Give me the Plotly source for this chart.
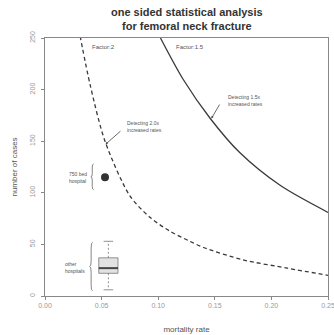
import plotly.graph_objects as go

# ---- data ----
rate_f2 = [0.031, 0.040, 0.053, 0.075, 0.093, 0.110, 0.128, 0.140, 0.175, 0.214, 0.250]
cases_f2 = [252, 204, 150, 97, 76, 63, 53, 47, 35, 27, 20]
rate_f15 = [0.102, 0.122, 0.146, 0.172, 0.208, 0.250]
cases_f15 = [250, 210, 172, 139, 107, 81]

hosp750_rate = [0.053]
hosp750_cases = [115]

other_rate = 0.056
other_stats = dict(low=6, q1=22, med=27, q3=37, high=53)
box_half = 0.0085

x_ticks = [0.00, 0.05, 0.10, 0.15, 0.20, 0.25]
x_ticklabels = ["0.00", "0.05", "0.10", "0.15", "0.20", "0.25"]
y_ticks = [0, 50, 100, 150, 200, 250]
y_ticklabels = ["0", "50", "100", "150", "200", "250"]

curve_col = "#3a3a3a"
txt_col = "#555555"
FONT = "Liberation Sans, Arial"
ann_font = dict(family=FONT, size=6, color="#555555")
small_font = dict(family=FONT, size=5, color="#555555")

fig = go.Figure()

fig.add_trace(go.Scatter(x=rate_f2, y=cases_f2, mode="lines", line_shape="spline",
                         line=dict(color=curve_col, width=1.3, dash="4px,3px", smoothing=0.8),
                         hoverinfo="skip"))
fig.add_trace(go.Scatter(x=rate_f15, y=cases_f15, mode="lines", line_shape="spline",
                         line=dict(color=curve_col, width=1.3, smoothing=0.8), hoverinfo="skip"))

fig.add_trace(go.Scatter(x=hosp750_rate, y=hosp750_cases, mode="markers",
                         marker=dict(size=8, color="#333333"), hoverinfo="skip"))

# boxplot of other hospitals
s = other_stats
xl, xr = other_rate - box_half, other_rate + box_half
fig.add_trace(go.Scatter(x=[xl, xr, xr, xl, xl], y=[s["q1"], s["q1"], s["q3"], s["q3"], s["q1"]],
                         mode="lines", fill="toself", fillcolor="#e2e2e2",
                         line=dict(color="#777777", width=0.8), hoverinfo="skip"))
fig.add_trace(go.Scatter(x=[xl, xr], y=[s["med"], s["med"]], mode="lines",
                         line=dict(color="#444444", width=2), hoverinfo="skip"))
fig.add_trace(go.Scatter(x=[other_rate, other_rate], y=[s["q3"], s["high"]], mode="lines",
                         line=dict(color="#777777", width=0.8, dash="2px,2px"), hoverinfo="skip"))
fig.add_trace(go.Scatter(x=[other_rate, other_rate], y=[s["q1"], s["low"]], mode="lines",
                         line=dict(color="#777777", width=0.8, dash="2px,2px"), hoverinfo="skip"))
for v in (s["high"], s["low"]):
    fig.add_trace(go.Scatter(x=[other_rate - box_half / 2, other_rate + box_half / 2], y=[v, v],
                             mode="lines", line=dict(color="#777777", width=0.8), hoverinfo="skip"))


def brace(x, y0, y1, w=0.0025):
    ym = (y0 + y1) / 2
    d = (y1 - y0) * 0.12
    xm = x + w / 2
    xr_ = x + w
    return (f"M {xr_},{y1} Q {xm},{y1} {xm},{y1 - d} L {xm},{ym + d} Q {xm},{ym} {x},{ym} "
            f"Q {xm},{ym} {xm},{ym - d} L {xm},{y0 + d} Q {xm},{y0} {xr_},{y0}")


shapes = [
    dict(type="path", path=brace(0.0405, 103, 128), xref="x", yref="y",
         line=dict(color="#666666", width=0.8)),
    dict(type="path", path=brace(0.0395, 5, 52), xref="x", yref="y",
         line=dict(color="#666666", width=0.8)),
]

annotations = [
    dict(x=0.5, y=1.0, xref="paper", yref="paper", yanchor="bottom", yshift=4,
         text="<b>one sided statistical analysis<br>for femoral neck fracture</b>",
         showarrow=False, font=dict(family=FONT, size=11, color="#333333")),
    dict(x=0.040, y=241, text="Factor:2", showarrow=False, xanchor="left", font=ann_font),
    dict(x=0.114, y=241, text="Factor:1.5", showarrow=False, xanchor="left", font=ann_font),
    dict(x=0.0705, y=164, text="Detecting 2.0x<br>increased rates", showarrow=False,
         xanchor="left", align="left", font=small_font),
    dict(x=0.160, y=189, text="Detecting 1.5x<br>increased rates", showarrow=False,
         xanchor="left", align="left", font=small_font),
    dict(x=0.0535, y=147, ax=0.068, ay=161, xref="x", yref="y", axref="x", ayref="y",
         text="", showarrow=True, arrowhead=2, arrowsize=0.6, arrowwidth=0.8, arrowcolor="#444444"),
    dict(x=0.147, y=172, ax=0.155, ay=187, xref="x", yref="y", axref="x", ayref="y",
         text="", showarrow=True, arrowhead=2, arrowsize=0.6, arrowwidth=0.8, arrowcolor="#444444"),
    dict(x=0.0385, y=115, text="750 bed<br>hospital", showarrow=False, xanchor="right",
         align="left", font=small_font),
    dict(x=0.0375, y=28, text="other<br>hospitals", showarrow=False, xanchor="right",
         align="left", font=small_font),
]

axis_common = dict(showline=True, linecolor="#888888", linewidth=1, mirror=True,
                   ticks="outside", ticklen=3, tickcolor="#888888", showgrid=False,
                   zeroline=False, automargin=False, ticklabeloverflow="allow",
                   showspikes=False,
                   tickfont=dict(family=FONT, size=7, color="#999999"))

fig.update_layout(
    width=334, height=335, showlegend=False, hovermode=False,
    margin=dict(l=45, r=6, t=38, b=39),
    paper_bgcolor="white", plot_bgcolor="white",
    xaxis=dict(range=[0, 0.25], tickvals=x_ticks, ticktext=x_ticklabels,
               title=dict(text="mortality rate", standoff=17,
                          font=dict(family=FONT, size=8, color=txt_col)),
               **axis_common),
    yaxis=dict(range=[0, 250], tickvals=y_ticks, ticktext=y_ticklabels, tickangle=-90,
               ticklabelstandoff=3,
               title=dict(text="number of cases", standoff=10,
                          font=dict(family=FONT, size=8, color=txt_col)),
               **axis_common),
    shapes=shapes, annotations=annotations,
)

fig.write_html("out.html", config={"displayModeBar": False, "staticPlot": True},
               post_script="document.body.style.margin='0';document.body.style.overflow='hidden';")
